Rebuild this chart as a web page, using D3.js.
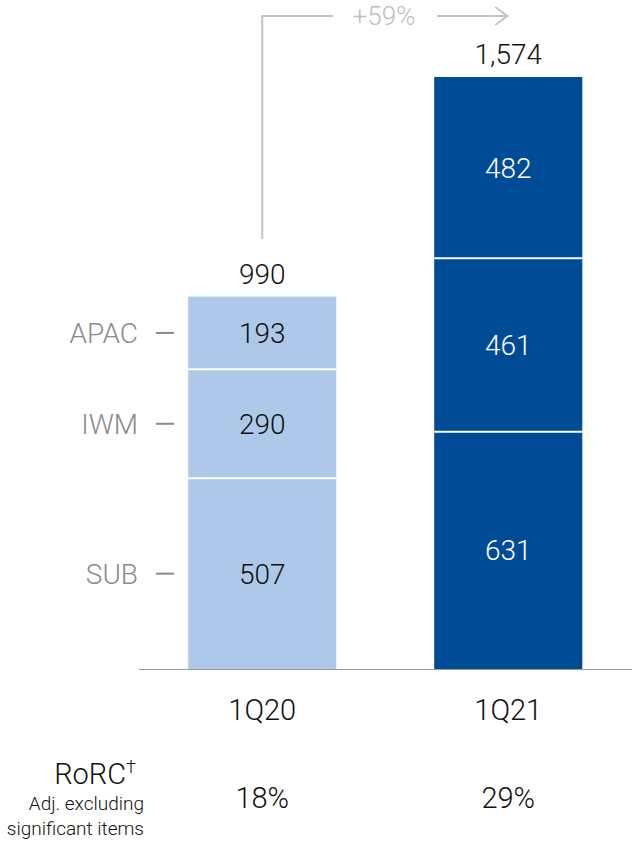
<!DOCTYPE html>
<html>
<head>
<meta charset="utf-8">
<script src="https://cdn.jsdelivr.net/npm/d3@7"></script>
<style>
  html, body { margin: 0; padding: 0; background: #fff; }
  svg { display: block; font-family: "Roboto", "Liberation Sans", sans-serif; font-weight: 300; }
</style>
</head>
<body>
<svg id="chart" width="632" height="841"></svg>
<script>
const categories = ["1Q20", "1Q21"];
const segments = ["SUB", "IWM", "APAC"];
const values1Q20 = [507, 290, 193];
const values1Q21 = [631, 461, 482];
const totals = [990, 1574];
const rorc = ["18%", "29%"];
const growthLabel = "+59%";
const barColors = ["#adc8e8", "#004b96"];
const labelColors = ["#111111", "#ffffff"];

const series = [values1Q20, values1Q21];
const svg = d3.select("#chart");

const x = d3.scaleBand().domain(categories).range([139, 631.5]).paddingInner(0.398).paddingOuter(0.2);
const y = d3.scaleLinear().domain([0, 1574]).range([669, 77]);

const rows = categories.map((c, i) => {
  const r = { cat: c };
  segments.forEach((s, j) => r[s] = series[i][j]);
  return r;
});
const stack = d3.stack().keys(segments)(rows);

const g = svg.append("g");
stack.forEach((layer) => {
  layer.forEach((d, ci) => {
    const cat = categories[ci];
    const y0 = y(d[0]), y1 = y(d[1]);
    g.append("rect")
      .attr("x", x(cat))
      .attr("width", x.bandwidth())
      .attr("y", y1)
      .attr("height", y0 - y1)
      .attr("fill", barColors[ci]);
    g.append("text")
      .attr("x", x(cat) + x.bandwidth() / 2)
      .attr("y", (y0 + y1) / 2 + 10)
      .attr("text-anchor", "middle")
      .attr("font-size", 28)
      .attr("fill", labelColors[ci])
      .text(d.data[layer.key]);
  });
});
stack.slice(0, -1).forEach(layer => {
  layer.forEach((d, ci) => {
    g.append("line")
      .attr("x1", x(categories[ci]))
      .attr("x2", x(categories[ci]) + x.bandwidth())
      .attr("y1", y(d[1])).attr("y2", y(d[1]))
      .attr("stroke", "#fff").attr("stroke-width", 2);
  });
});

categories.forEach((c, i) => {
  svg.append("text")
    .attr("x", x(c) + x.bandwidth() / 2)
    .attr("y", y(totals[i]) - 13)
    .attr("text-anchor", "middle")
    .attr("font-size", 28)
    .attr("fill", "#111")
    .text(d3.format(",")(totals[i]));
});

svg.append("line")
  .attr("x1", 139).attr("x2", 632)
  .attr("y1", y(0) + 0.5).attr("y2", y(0) + 0.5)
  .attr("stroke", "#999").attr("stroke-width", 1.2);

const xAxis = svg.append("g").attr("transform", `translate(0,${y(0)})`)
  .call(d3.axisBottom(x).tickSize(0).tickPadding(0));
xAxis.select(".domain").remove();
xAxis.selectAll("text")
  .attr("y", 51)
  .attr("dy", 0)
  .attr("font-size", 29)
  .attr("font-family", "Roboto, 'Liberation Sans', sans-serif")
  .attr("font-weight", 300)
  .attr("fill", "#111");

stack.forEach((layer) => {
  const d = layer[0];
  const cy = y((d[0] + d[1]) / 2);
  svg.append("text")
    .attr("x", 138)
    .attr("y", cy + 10)
    .attr("text-anchor", "end")
    .attr("font-size", 28)
    .attr("fill", "#8a8a8a")
    .text(layer.key);
  svg.append("line")
    .attr("x1", 156).attr("x2", 174)
    .attr("y1", cy).attr("y2", cy)
    .attr("stroke", "#8a8a8a").attr("stroke-width", 2);
});

const cx0 = x("1Q20") + x.bandwidth() / 2;
const cx1 = x("1Q21") + x.bandwidth() / 2;
const by = 16;
const gray = "#c4c4c4";
svg.append("path")
  .attr("d", `M${cx0},${y(totals[0]) - 58} V${by} H${333}`)
  .attr("fill", "none").attr("stroke", gray).attr("stroke-width", 2);
svg.append("line")
  .attr("x1", 437).attr("x2", cx1 - 2)
  .attr("y1", by).attr("y2", by)
  .attr("stroke", gray).attr("stroke-width", 2);
svg.append("path")
  .attr("d", `M${cx1 - 13},${by - 9} L${cx1 - 1},${by} L${cx1 - 13},${by + 9}`)
  .attr("fill", "none").attr("stroke", gray).attr("stroke-width", 2);
svg.append("text")
  .attr("x", 384).attr("y", by + 9)
  .attr("text-anchor", "middle")
  .attr("font-size", 26)
  .attr("fill", "#bdbdbd")
  .text(growthLabel);

const rorcLabel = svg.append("text")
  .attr("x", 136).attr("y", 784)
  .attr("text-anchor", "end")
  .attr("font-size", 29)
  .attr("fill", "#111");
rorcLabel.append("tspan").text("RoRC");
rorcLabel.append("tspan").attr("font-size", 18).attr("dy", -11).text("†");
svg.append("text")
  .attr("x", 144).attr("y", 810)
  .attr("text-anchor", "end")
  .attr("font-size", 19)
  .attr("fill", "#111")
  .text("Adj. excluding");
svg.append("text")
  .attr("x", 144).attr("y", 835)
  .attr("text-anchor", "end")
  .attr("font-size", 19)
  .attr("fill", "#111")
  .text("significant items");
categories.forEach((c, i) => {
  svg.append("text")
    .attr("x", x(c) + x.bandwidth() / 2)
    .attr("y", 808)
    .attr("text-anchor", "middle")
    .attr("font-size", 29)
    .attr("fill", "#111")
    .text(rorc[i]);
});
</script>
</body>
</html>
